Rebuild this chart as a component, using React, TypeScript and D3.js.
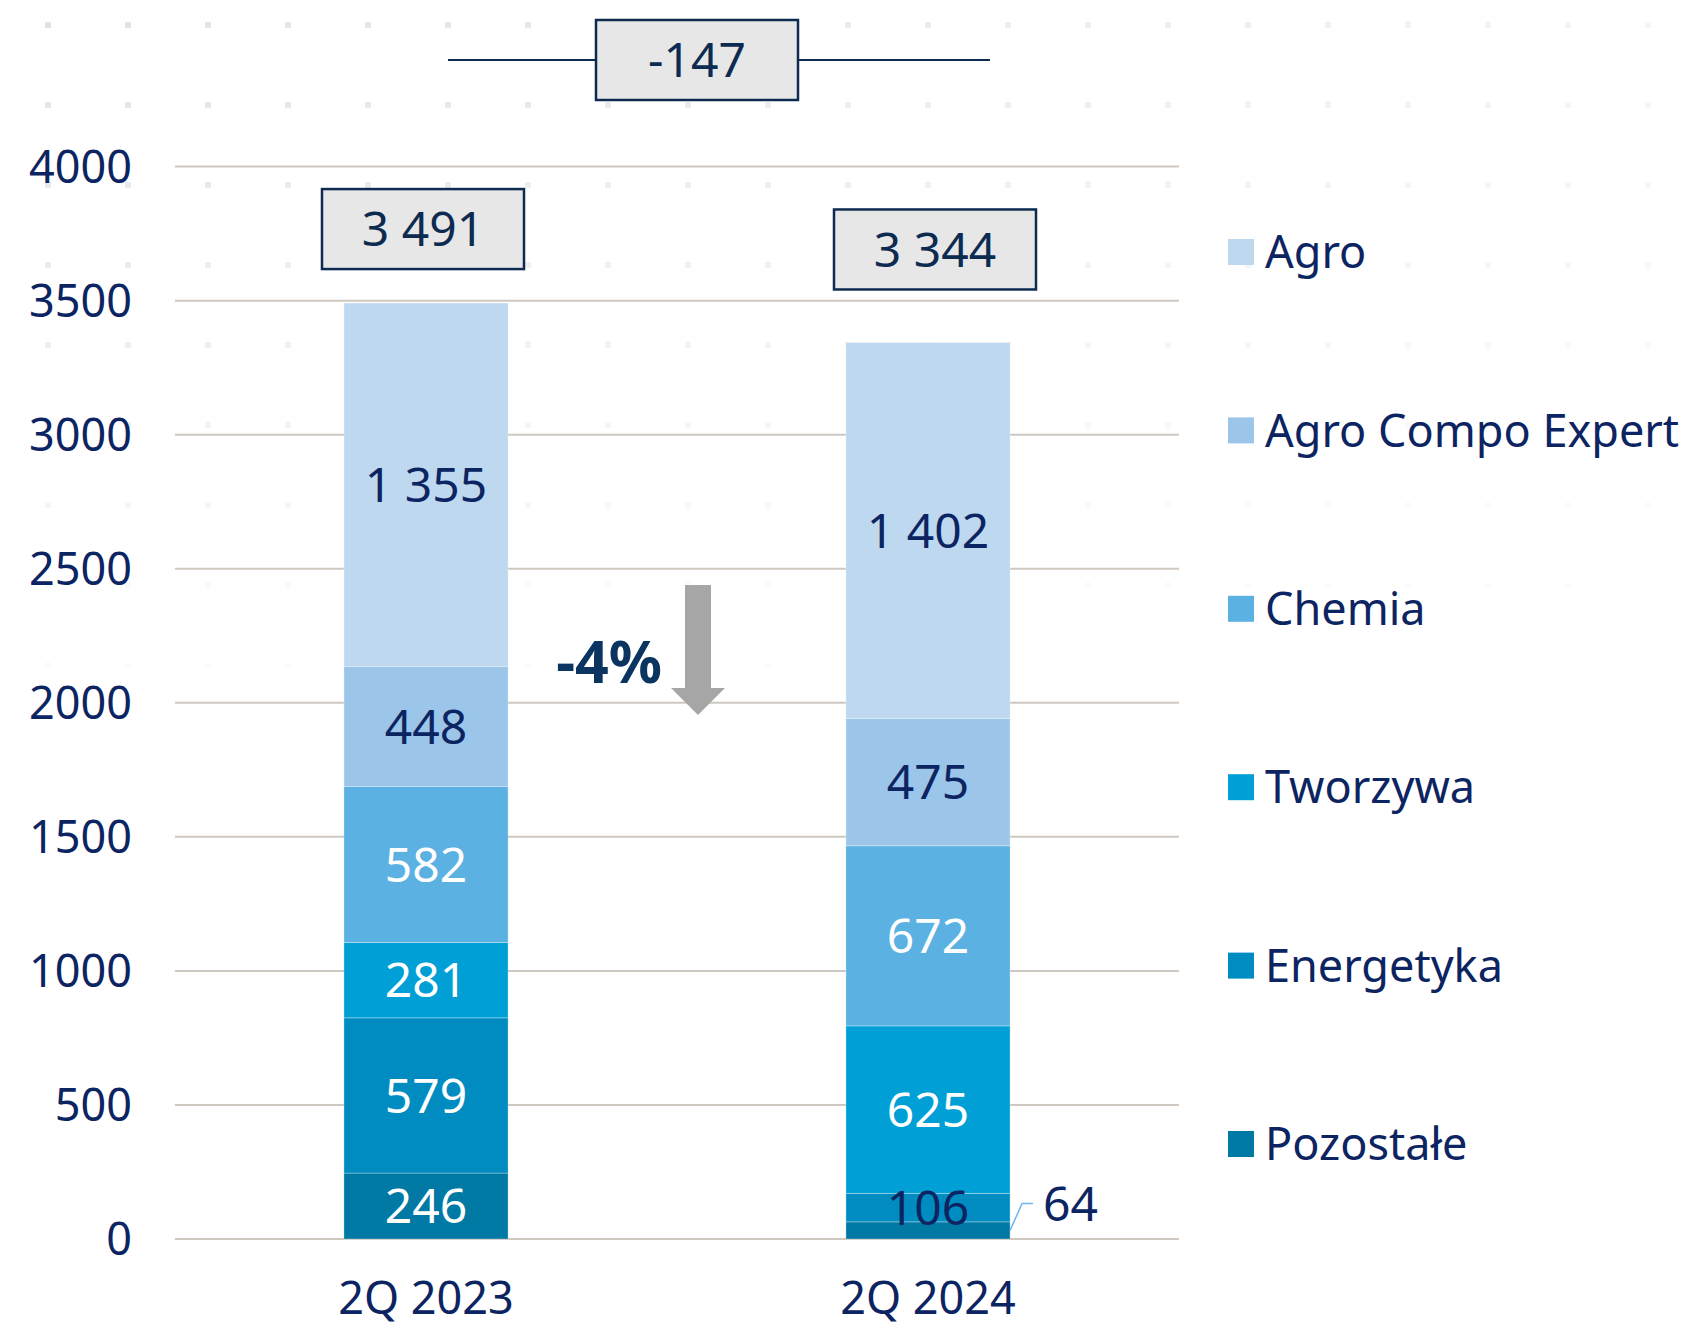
import React, { useEffect, useRef } from 'react';
import * as d3 from 'd3';

// values (mln PLN), stacked bottom -> top
const categories = ['2Q 2023', '2Q 2024'];
const segments = ['Pozostałe', 'Energetyka', 'Tworzywa', 'Chemia', 'Agro Compo Expert', 'Agro'];
const pozostale = [246, 64];
const energetyka = [579, 106];
const tworzywa = [281, 625];
const chemia = [582, 672];
const agroCompoExpert = [448, 475];
const agro = [1355, 1402];
const yTicks = [0, 500, 1000, 1500, 2000, 2500, 3000, 3500, 4000];
const totalChange = -147;
const changeLabel = '-4%';

const colors = ['#0079a4', '#008cc1', '#00a0d6', '#5bb1e1', '#9bc6ea', '#bdd8ef'];
const labelDark = [false, false, false, false, true, true];

const W = 1685, H = 1326;
const navy = '#0c2461';
const boxNavy = '#0d2b50';
const font = '"Noto Sans", "Open Sans", sans-serif';

const seriesValues: number[][] = [pozostale, energetyka, tworzywa, chemia, agroCompoExpert, agro];

export default function App() {
    const ref = useRef<SVGSVGElement>(null);

    useEffect(() => {
        document.body.style.margin = '0';
        const svg = d3.select(ref.current);
        svg.selectAll('*').remove();

        const rows = categories.map((c, i) => {
            const r: any = { category: c };
            segments.forEach((s, k) => { r[s] = seriesValues[k][i]; });
            return r;
        });
        const stacked = d3.stack().keys(segments)(rows);
        const totals = rows.map(r => d3.sum(segments, s => r[s]));

        const y = d3.scaleLinear().domain([0, 4000]).range([1239, 166.6]);
        const x = d3.scaleBand().domain(categories).range([175, 1179]).paddingInner(0.673).paddingOuter(0.3365);
        const fmt = d3.formatLocale({ decimal: ',', thousands: ' ', grouping: [3], currency: ['', ''] }).format(',d');

        // dotted background, fading to the right and downwards
        const dots = svg.append('g');
        for (let dy = 25; dy < 760; dy += 80) {
            for (let dx = 48; dx < W; dx += 80) {
                const op = Math.max(0, 1 - dy / 760) * (1 - 0.65 * dx / W);
                dots.append('rect')
                    .attr('x', dx - 3).attr('y', dy - 3)
                    .attr('width', 6).attr('height', 6)
                    .attr('fill', '#dce2ea')
                    .attr('opacity', op);
            }
        }

        // grid
        svg.append('g')
            .selectAll('line')
            .data(yTicks)
            .enter().append('line')
            .attr('x1', 175).attr('x2', 1179)
            .attr('y1', d => y(d)).attr('y2', d => y(d))
            .attr('stroke', '#cfc8c0').attr('stroke-width', 2);

        svg.append('g')
            .selectAll('text')
            .data(yTicks)
            .enter().append('text')
            .attr('x', 132).attr('y', d => y(d))
            .attr('dy', '0.36em')
            .attr('text-anchor', 'end')
            .style('font-family', font).style('font-size', '45px')
            .attr('fill', navy)
            .text(d => d);

        // bars
        const bw = x.bandwidth();
        stacked.forEach((layer, k) => {
            svg.append('g')
                .selectAll('rect')
                .data(layer)
                .enter().append('rect')
                .attr('x', (d: any) => x(d.data.category)!)
                .attr('width', bw)
                .attr('y', d => y(d[1]))
                .attr('height', d => y(d[0]) - y(d[1]))
                .attr('fill', colors[k])
                .attr('stroke', 'rgba(255,255,255,0.3)')
                .attr('stroke-width', 1);
        });

        // segment labels
        stacked.forEach((layer, k) => {
            layer.forEach((d: any) => {
                const v = d[1] - d[0];
                const cx = x(d.data.category)! + bw / 2;
                const cy = y((d[0] + d[1]) / 2);
                if (v < 80) {
                    const x0 = x(d.data.category)! + bw;
                    svg.append('path')
                        .attr('d', `M${x0},${cy} L${x0 + 12},${cy - 27} L${x0 + 23},${cy - 27}`)
                        .attr('fill', 'none').attr('stroke', '#6cb8ee').attr('stroke-width', 1.5);
                    svg.append('text')
                        .attr('x', x0 + 33).attr('y', cy - 27)
                        .attr('dy', '0.36em')
                        .style('font-family', font).style('font-size', '48px')
                        .attr('fill', navy)
                        .text(fmt(v));
                } else {
                    svg.append('text')
                        .attr('x', cx).attr('y', cy)
                        .attr('dy', '0.36em')
                        .attr('text-anchor', 'middle')
                        .style('font-family', font).style('font-size', '48px')
                        .attr('fill', labelDark[k] || v < 150 ? navy : '#ffffff')
                        .text(fmt(v));
                }
            });
        });

        // total boxes
        const boxOffsets = [74, 93];
        const boxShift = [-3, 7];
        totals.forEach((t, i) => {
            const cx = x(categories[i])! + bw / 2 + boxShift[i];
            const cy = y(t) - boxOffsets[i];
            const g = svg.append('g');
            g.append('rect')
                .attr('x', cx - 101).attr('y', cy - 40)
                .attr('width', 202).attr('height', 80)
                .attr('fill', '#e7e7e7').attr('stroke', boxNavy).attr('stroke-width', 2.5);
            g.append('text')
                .attr('x', cx).attr('y', cy)
                .attr('dy', '0.36em').attr('text-anchor', 'middle')
                .style('font-family', font).style('font-size', '48px')
                .attr('fill', boxNavy)
                .text(fmt(t));
        });

        // change box on top
        const c0 = x(categories[0])! + bw / 2, c1 = x(categories[1])! + bw / 2;
        const mid = (c0 + c1) / 2;
        svg.append('line')
            .attr('x1', mid - 229).attr('x2', mid + 313)
            .attr('y1', 60).attr('y2', 60)
            .attr('stroke', boxNavy).attr('stroke-width', 2);
        svg.append('rect')
            .attr('x', mid + 20 - 101).attr('y', 20)
            .attr('width', 202).attr('height', 80)
            .attr('fill', '#e7e7e7').attr('stroke', boxNavy).attr('stroke-width', 2.5);
        svg.append('text')
            .attr('x', mid + 20).attr('y', 60)
            .attr('dy', '0.36em').attr('text-anchor', 'middle')
            .style('font-family', font).style('font-size', '48px')
            .attr('fill', boxNavy)
            .text(fmt(totalChange).replace('−', '-'));

        // arrow + percent
        const ax = mid + 21;
        svg.append('path')
            .attr('d', `M${ax - 13},585 L${ax + 13},585 L${ax + 13},688 L${ax + 27},688 L${ax},715 L${ax - 27},688 L${ax - 13},688 Z`)
            .attr('fill', '#a6a6a6');
        svg.append('text')
            .attr('x', ax - 36).attr('y', 683)
            .attr('text-anchor', 'end')
            .style('font-family', font).style('font-size', '59px').style('font-weight', 700)
            .attr('fill', '#0b3461')
            .text(changeLabel);

        // category labels
        svg.append('g')
            .selectAll('text')
            .data(categories)
            .enter().append('text')
            .attr('x', d => x(d)! + bw / 2).attr('y', 1298)
            .attr('dy', '0.36em').attr('text-anchor', 'middle')
            .style('font-family', font).style('font-size', '45px')
            .attr('fill', navy)
            .text(d => d);

        // legend (top item = top of stack)
        const legendItems = segments.map((s, k) => ({ s, c: colors[k] })).reverse();
        const lg = svg.append('g')
            .selectAll('g')
            .data(legendItems)
            .enter().append('g')
            .attr('transform', (d, i) => `translate(1228, ${252 + i * 178.4})`);
        lg.append('rect')
            .attr('x', 0).attr('y', -13).attr('width', 26).attr('height', 26)
            .attr('fill', d => d.c);
        lg.append('text')
            .attr('x', 37).attr('y', 0).attr('dy', '0.36em')
            .style('font-family', font).style('font-size', '45px')
            .attr('fill', navy)
            .text(d => d.s);
    }, []);

    return <svg ref={ref} width={W} height={H} style={{ display: 'block', background: '#ffffff' }}></svg>;
}
